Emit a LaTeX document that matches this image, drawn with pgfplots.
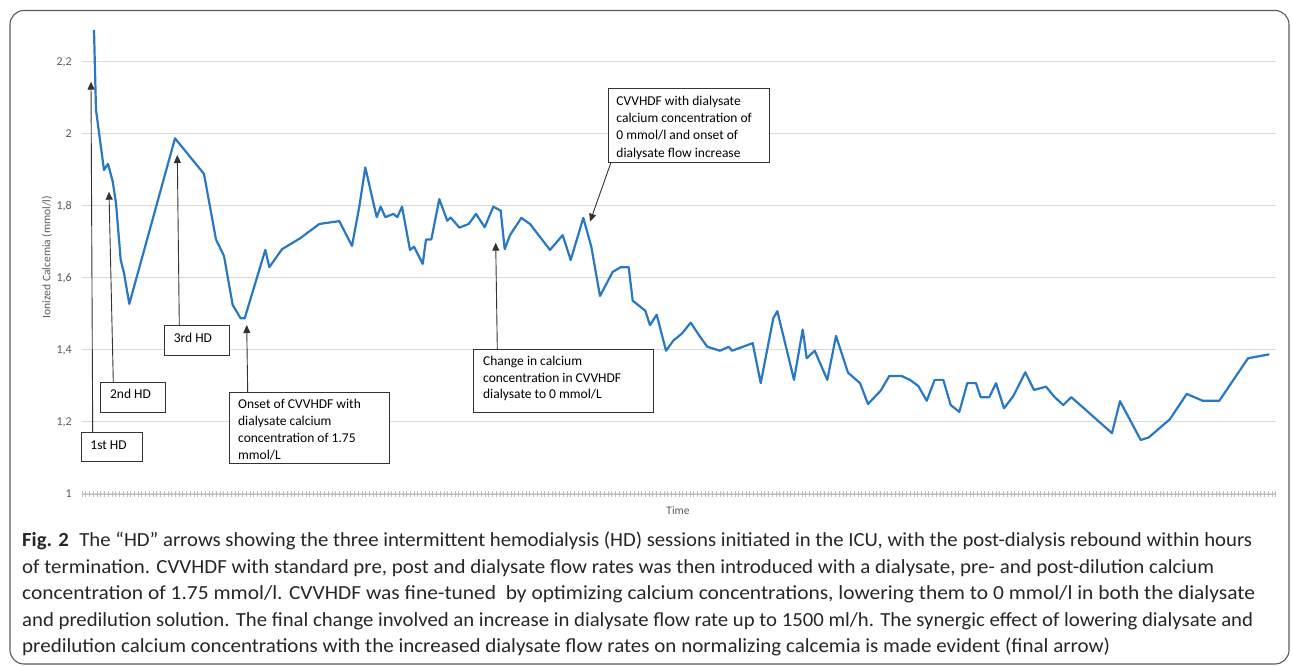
\documentclass[border=0pt]{standalone}
\usepackage{fontspec}
\setmainfont{Carlito}
\usepackage{graphicx}
\usepackage{pgfplots}
\pgfplotsset{compat=1.18}
\usetikzlibrary{arrows.meta}
\definecolor{lineblue}{RGB}{40,120,195}
\definecolor{tickgray}{RGB}{89,89,89}
\definecolor{gridgray}{RGB}{217,217,217}
\definecolor{axgray}{RGB}{190,190,190}
\newcommand\fitline[2]{\resizebox{#1}{\height}{#2}}
\begin{document}
\begin{tikzpicture}[x=1pt,y=1pt]
\path (0,0) rectangle (1293,666);
\draw[rounded corners=14pt, line width=1.1pt, black!65] (10,2) rectangle (1289,655.5);
\begin{axis}[
  at={(82pt,172pt)}, anchor=south west,
  scale only axis, width=1194pt, height=468pt,
  xmin=82, xmax=1276, ymin=1, ymax=2.3,
  axis x line*=bottom, axis y line*=left,
  x axis line style={axgray, line width=0.8pt, -},
  y axis line style={draw=none},
  ytick={1,1.2,1.4,1.6,1.8,2,2.2},
  yticklabels={1,{1,2},{1,4},{1,6},{1,8},2,{2,2}},
  ytick style={draw=none},
  ymajorgrids, grid style={gridgray, line width=1pt},
  xtick={82,85.73,...,1276}, xticklabels={},
  xtick style={axgray, line width=0.5pt},
  tick align=center, major tick length=6pt,
  yticklabel style={font=\fontsize{12}{14}\selectfont, text=tickgray, anchor=east, inner sep=0pt, xshift=-7pt},
  clip=false,
]
\addplot[lineblue, line width=2.2pt, line join=round, no markers] table {
x y
94 2.289
96 2.067
104 1.900
108 1.917
112.7 1.868
116 1.808
120.7 1.650
124 1.614
129.3 1.528
175 1.988
204 1.889
216 1.707
224 1.661
232.7 1.525
240.7 1.488
244.7 1.488
265.3 1.678
269.3 1.630
282 1.680
300 1.710
319.3 1.750
339.3 1.758
352 1.689
359.3 1.798
365.3 1.907
376.7 1.769
380.7 1.798
385.3 1.769
393.3 1.778
397.3 1.769
402 1.798
410 1.678
414 1.687
422.7 1.639
426 1.707
431.3 1.707
439.3 1.819
447.3 1.759
450.7 1.768
459.3 1.740
468.7 1.750
476 1.778
484.7 1.741
493.3 1.798
500.7 1.787
504.7 1.680
510 1.719
521.3 1.767
530 1.750
550 1.678
562.7 1.719
570.7 1.650
583.3 1.767
591.3 1.687
600 1.550
612.7 1.617
620.7 1.630
628.7 1.630
632.7 1.537
645.3 1.509
650 1.469
656.7 1.498
666 1.398
673.3 1.426
682 1.446
690.7 1.476
700 1.437
707.3 1.409
720 1.398
728.7 1.409
732 1.398
752.7 1.419
760.7 1.308
773.3 1.488
777.3 1.508
794 1.317
802.7 1.457
806.7 1.377
814.7 1.398
827.3 1.317
836 1.439
848 1.337
860 1.308
868 1.250
880.7 1.287
889.3 1.328
901.3 1.328
910 1.317
918.3 1.300
926.7 1.259
934.7 1.317
943.3 1.317
950.7 1.247
959.3 1.228
967.3 1.308
976 1.308
980.7 1.269
989.3 1.269
996 1.308
1004 1.238
1013.3 1.272
1025.3 1.338
1034 1.289
1046 1.298
1054.7 1.269
1063.3 1.247
1071.3 1.269
1112 1.169
1120 1.258
1140.7 1.150
1148.7 1.157
1170 1.208
1186.7 1.278
1202.7 1.259
1219.3 1.259
1248 1.377
1269.3 1.388
};
\end{axis}
% axis labels
\node[rotate=90, font=\fontsize{11.5}{13}\selectfont, text=tickgray] at (47,409) {Ionized Calcemia (mmol/l)};
\node[font=\fontsize{11.5}{13}\selectfont, text=tickgray] at (678,155) {Time};
% annotations
\begin{scope}[line width=0.9pt, draw=black!80]
\tikzset{arr/.style={-{Triangle[length=8pt,width=7pt]}, black!80}}
\draw[arr] (92.7,234) -- (91,584.3);
\draw[fill=white] (81,205) rectangle (142.3,234);
\node[anchor=base west, inner sep=0pt, font=\fontsize{13.5}{16}\selectfont] at (90,216) {1st HD};
\draw[arr] (113.3,284) -- (109,474.3);
\draw[fill=white] (100.3,254) rectangle (165.3,284);
\node[anchor=base west, inner sep=0pt, font=\fontsize{13.5}{16}\selectfont] at (109.7,267.4) {2nd HD};
\draw[arr] (179.3,341) -- (177.3,511);
\draw[fill=white] (164.3,310.7) rectangle (229.3,341);
\node[anchor=base west, inner sep=0pt, font=\fontsize{13.5}{16}\selectfont] at (173.3,323.7) {3rd HD};
\draw[arr] (247.7,273.7) -- (246.7,341);
\draw[fill=white] (229,202.3) rectangle (389.3,273.7);
\node[anchor=base west, inner sep=0pt, font=\fontsize{13.5}{16}\selectfont] at (237.7,257.7) {Onset of CVVHDF with};
\node[anchor=base west, inner sep=0pt, font=\fontsize{13.5}{16}\selectfont] at (237.7,240.4) {dialysate calcium};
\node[anchor=base west, inner sep=0pt, font=\fontsize{13.5}{16}\selectfont] at (237.7,223.4) {concentration of 1.75};
\node[anchor=base west, inner sep=0pt, font=\fontsize{13.5}{16}\selectfont] at (237.7,206.4) {mmol/L};
\draw[arr] (497.3,317) -- (495.7,423.3);
\draw[fill=white] (473.7,254) rectangle (653.7,317);
\node[anchor=base west, inner sep=0pt, font=\fontsize{13.5}{16}\selectfont] at (482.7,300.7) {Change in calcium};
\node[anchor=base west, inner sep=0pt, font=\fontsize{13.5}{16}\selectfont] at (482.7,283.7) {concentration in CVVHDF};
\node[anchor=base west, inner sep=0pt, font=\fontsize{13.5}{16}\selectfont] at (482.7,267) {dialysate to 0 mmol/L};
\draw[arr] (610.7,502.7) -- (590,444.3);
\draw[fill=white] (608.3,503.3) rectangle (769,578);
\node[anchor=base west, inner sep=0pt, font=\fontsize{13.5}{16}\selectfont] at (616,560.6) {CVVHDF with dialysate};
\node[anchor=base west, inner sep=0pt, font=\fontsize{13.5}{16}\selectfont] at (616,543.3) {calcium concentration of};
\node[anchor=base west, inner sep=0pt, font=\fontsize{13.5}{16}\selectfont] at (616,526) {0 mmol/l and onset of};
\node[anchor=base west, inner sep=0pt, font=\fontsize{13.5}{16}\selectfont] at (616,508.7) {dialysate flow increase};
\end{scope}
% caption
\begin{scope}[every node/.style={anchor=base west, inner sep=0pt, font=\fontsize{20}{24}\selectfont, text=black!85}]
\node at (22,119) {\fitline{1230pt}{\textbf{Fig. 2}\hspace{0.5em}The “HD” arrows showing the three intermittent hemodialysis (HD) sessions initiated in the ICU, with the post-dialysis rebound within hours}};
\node at (22,92.5) {\fitline{1192pt}{of termination. CVVHDF with standard pre, post and dialysate flow rates was then introduced with a dialysate, pre- and post-dilution calcium}};
\node at (22,66) {\fitline{1233pt}{concentration of 1.75 mmol/l. CVVHDF was fine-tuned\ \ by optimizing calcium concentrations, lowering them to 0 mmol/l in both the dialysate}};
\node at (22,39.5) {\fitline{1231pt}{and predilution solution. The final change involved an increase in dialysate flow rate up to 1500 ml/h. The synergic effect of lowering dialysate and}};
\node at (22,13) {\fitline{1088pt}{predilution calcium concentrations with the increased dialysate flow rates on normalizing calcemia is made evident (final arrow)}};
\end{scope}
\end{tikzpicture}
\end{document}
